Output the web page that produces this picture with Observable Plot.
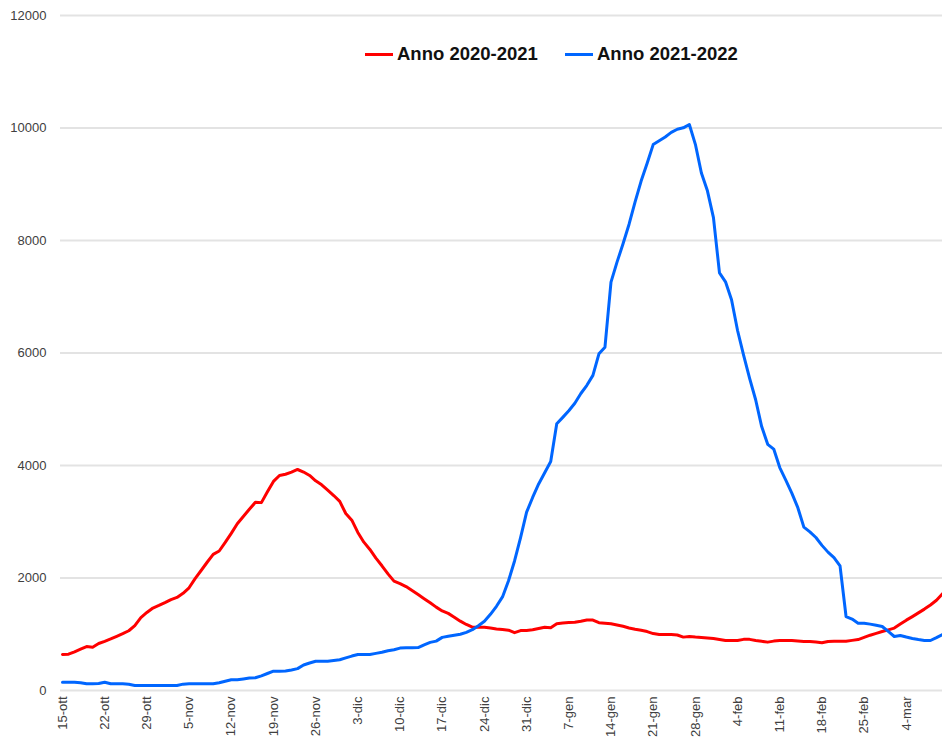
<!DOCTYPE html>
<html>
<head>
<meta charset="utf-8">
<script src="https://cdn.jsdelivr.net/npm/d3@7"></script>
<script src="https://cdn.jsdelivr.net/npm/@observablehq/plot@0.6"></script>
<style>
  body { margin: 0; background: #fff; font-family: "Liberation Sans", Arial, sans-serif; }
  #wrap { position: relative; width: 942px; height: 744px; overflow: hidden; }
  .leg { position: absolute; top: 44px; height: 20px; display: flex; align-items: center;
         font-weight: bold; font-size: 18.5px; color: #111; white-space: nowrap; }
  .sw { display: inline-block; width: 28px; height: 3px; margin-right: 4px; }
</style>
</head>
<body>
<div id="wrap"></div>
<script>
const seriesNames = ["Anno 2020-2021", "Anno 2021-2022"];
const seriesColors = ["#ff0000", "#0066ff"];
const tickLabels = ["15-ott","22-ott","29-ott","5-nov","12-nov","19-nov","26-nov","3-dic","10-dic","17-dic",
  "24-dic","31-dic","7-gen","14-gen","21-gen","28-gen","4-feb","11-feb","18-feb","25-feb","4-mar"];
const yTicks = [0, 2000, 4000, 6000, 8000, 10000, 12000];

// daily values, 15-ott .. 10-mar
const red = [640,645,688,735,781,770,836,874,916,962,
  1010,1062,1153,1296,1387,1466,1512,1563,1617,1655,
  1728,1826,1990,2133,2280,2420,2480,2633,2794,2964,
  3092,3222,3345,3340,3533,3717,3823,3845,3882,3929,
  3884,3823,3728,3657,3563,3466,3361,3146,3028,2810,
  2637,2507,2354,2217,2073,1945,1900,1847,1777,1705,
  1633,1560,1482,1415,1371,1304,1233,1174,1126,1126,
  1126,1110,1094,1083,1072,1028,1065,1067,1079,1102,
  1124,1116,1187,1201,1208,1214,1232,1254,1253,1205,
  1196,1185,1164,1141,1112,1089,1070,1048,1012,996,
  996,996,986,949,960,950,943,934,924,908,
  890,889,889,909,909,890,874,860,878,889,
  889,889,879,871,871,863,849,872,877,877,
  877,891,905,943,983,1015,1048,1078,1109,1181,
  1251,1314,1380,1447,1520,1605,1720];

const blue = [148,148,148,138,119,119,123,147,121,119,
  119,110,89,89,89,89,89,89,89,89,
  113,119,119,119,119,119,139,165,190,190,
  205,221,226,260,302,343,343,346,364,389,
  454,488,519,521,521,533,547,581,612,640,
  640,641,660,679,706,724,754,759,759,764,
  813,856,878,944,965,983,1001,1034,1081,1151,
  1231,1354,1497,1664,1951,2303,2718,3170,3432,3672,
  3872,4070,4742,4855,4973,5107,5280,5426,5602,5986,
  6104,7260,7615,7941,8290,8686,9057,9375,9705,9772,
  9840,9922,9978,10003,10063,9710,9201,8883,8408,7423,
  7265,6947,6400,5963,5549,5169,4692,4376,4292,3963,
  3740,3510,3250,2905,2820,2720,2580,2460,2363,2215,
  1315,1270,1197,1197,1180,1160,1138,1050,960,978,
  950,925,905,889,889,940,996];

const data = [
  ...red.map((v, i) => ({day: i, value: v, series: seriesNames[0]})),
  ...blue.map((v, i) => ({day: i, value: v, series: seriesNames[1]}))
];

const chart = Plot.plot({
  width: 942,
  height: 744,
  marginLeft: 60,
  marginRight: 0,
  marginTop: 15,
  marginBottom: 54,
  style: { fontSize: "13px", fontFamily: "'Liberation Sans', Arial, sans-serif", color: "#404040", background: "#fff" },
  x: {
    domain: [-0.33, 146],
    ticks: tickLabels.map((_, i) => i * 7),
    tickFormat: d => tickLabels[Math.round(d / 7)],
    tickRotate: -90,
    tickSize: 0,
    tickPadding: 6,
    label: null
  },
  y: { domain: [0, 12000], ticks: yTicks, tickSize: 0, tickPadding: 14, label: null, tickFormat: d => String(d) },
  color: { domain: seriesNames, range: seriesColors },
  marks: [
    Plot.ruleY(yTicks, { stroke: "#e3e3e3", strokeWidth: 2 }),
    Plot.lineY(data, { x: "day", y: "value", stroke: "series", strokeWidth: 3, clip: true })
  ]
});

const wrap = document.getElementById("wrap");
wrap.appendChild(chart);

const legPos = [365, 565];
seriesNames.forEach((name, i) => {
  const item = document.createElement("div");
  item.className = "leg";
  item.style.left = legPos[i] + "px";
  const sw = document.createElement("span");
  sw.className = "sw";
  sw.style.background = seriesColors[i];
  item.appendChild(sw);
  item.appendChild(document.createTextNode(name));
  wrap.appendChild(item);
});
</script>
</body>
</html>
